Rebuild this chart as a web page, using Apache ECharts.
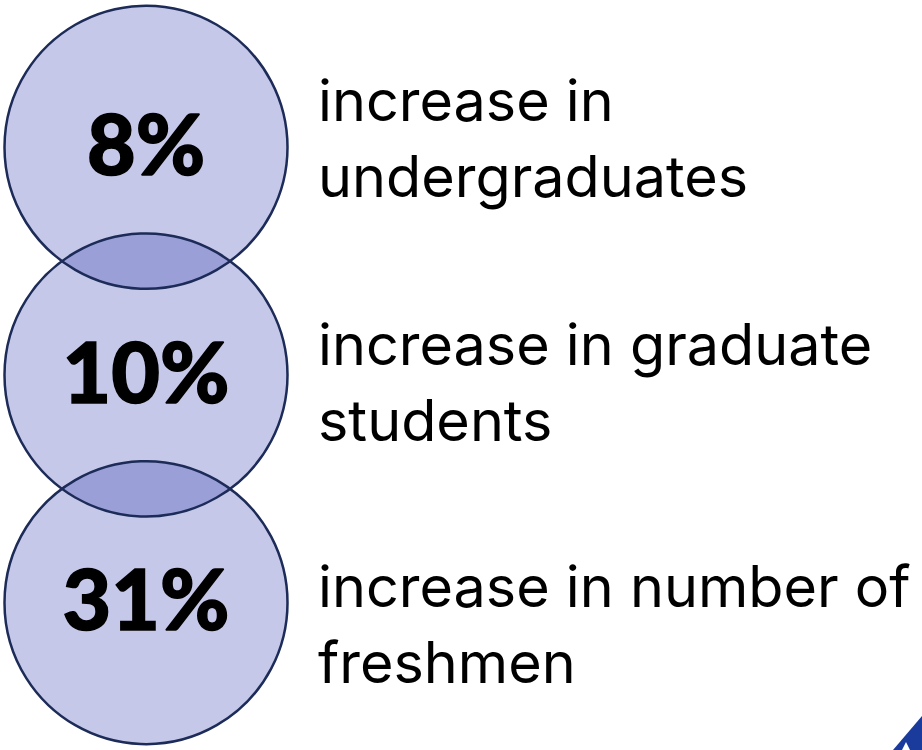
<!DOCTYPE html>
<html>
<head>
<meta charset="utf-8">
<script src="https://cdn.jsdelivr.net/npm/echarts@6/dist/echarts.min.js"></script>
<style>
  html, body { margin: 0; padding: 0; background: #ffffff; }
  #chart { width: 922px; height: 750px; }
</style>
</head>
<body>
<div id="chart"></div>
<script>
// Enrollment growth, one circle per group
const categories = ['undergraduates', 'graduate students', 'freshmen'];
const increases = [8, 10, 31];
const descriptions = [
  'increase in\nundergraduates',
  'increase in graduate\nstudents',
  'increase in number of\nfreshmen'
];

const chart = echarts.init(document.getElementById('chart'), null, { renderer: 'svg' });

const points = increases.map((v, i) => [0, categories[i], v]);

// text block positions (top of each two-line block)
const textTops = [62, 306, 548];

const graphics = descriptions.map((txt, i) => ({
  type: 'text',
  x: 318,
  y: textTops[i],
  silent: true,
  style: {
    text: txt,
    font: '57.5px Inter',
    fill: '#000000',
    lineHeight: 76,
    textAlign: 'left',
    textVerticalAlign: 'top'
  }
}));

// small logo corner
graphics.push({
  type: 'polygon',
  silent: true,
  shape: { points: [[922, 716], [893, 750], [922, 750]] },
  style: { fill: '#1a3a9c' }
});
graphics.push({
  type: 'polygon',
  silent: true,
  shape: { points: [[902, 750], [906, 742], [910, 750]] },
  style: { fill: '#ffffff' }
});

chart.setOption({
  animation: false,
  backgroundColor: '#ffffff',
  grid: { left: 0, width: 292, top: 33.5, height: 683 },
  xAxis: { type: 'category', data: ['all'], show: false },
  yAxis: { type: 'category', data: categories, inverse: true, show: false },
  tooltip: { show: false },
  series: [
    {
      type: 'scatter',
      symbol: 'circle',
      symbolSize: 283,
      data: points,
      silent: true,
      emphasis: { disabled: true },
      itemStyle: { color: 'rgba(32,44,167,0.26)', opacity: 1 },
      label: {
        show: true,
        position: 'inside',
        offset: [0, -5],
        formatter: p => p.value[2] + '%',
        fontFamily: 'Lato',
        fontWeight: 900,
        fontSize: 84,
        color: '#000000',
        textBorderColor: '#000000',
        textBorderWidth: 1.5
      }
    },
    {
      type: 'scatter',
      symbol: 'circle',
      symbolSize: 283,
      data: points,
      silent: true,
      emphasis: { disabled: true },
      itemStyle: { color: 'rgba(0,0,0,0)', borderColor: '#1c2b57', borderWidth: 2.5, opacity: 1 },
      label: { show: false }
    }
  ],
  graphic: graphics
});
</script>
</body>
</html>
